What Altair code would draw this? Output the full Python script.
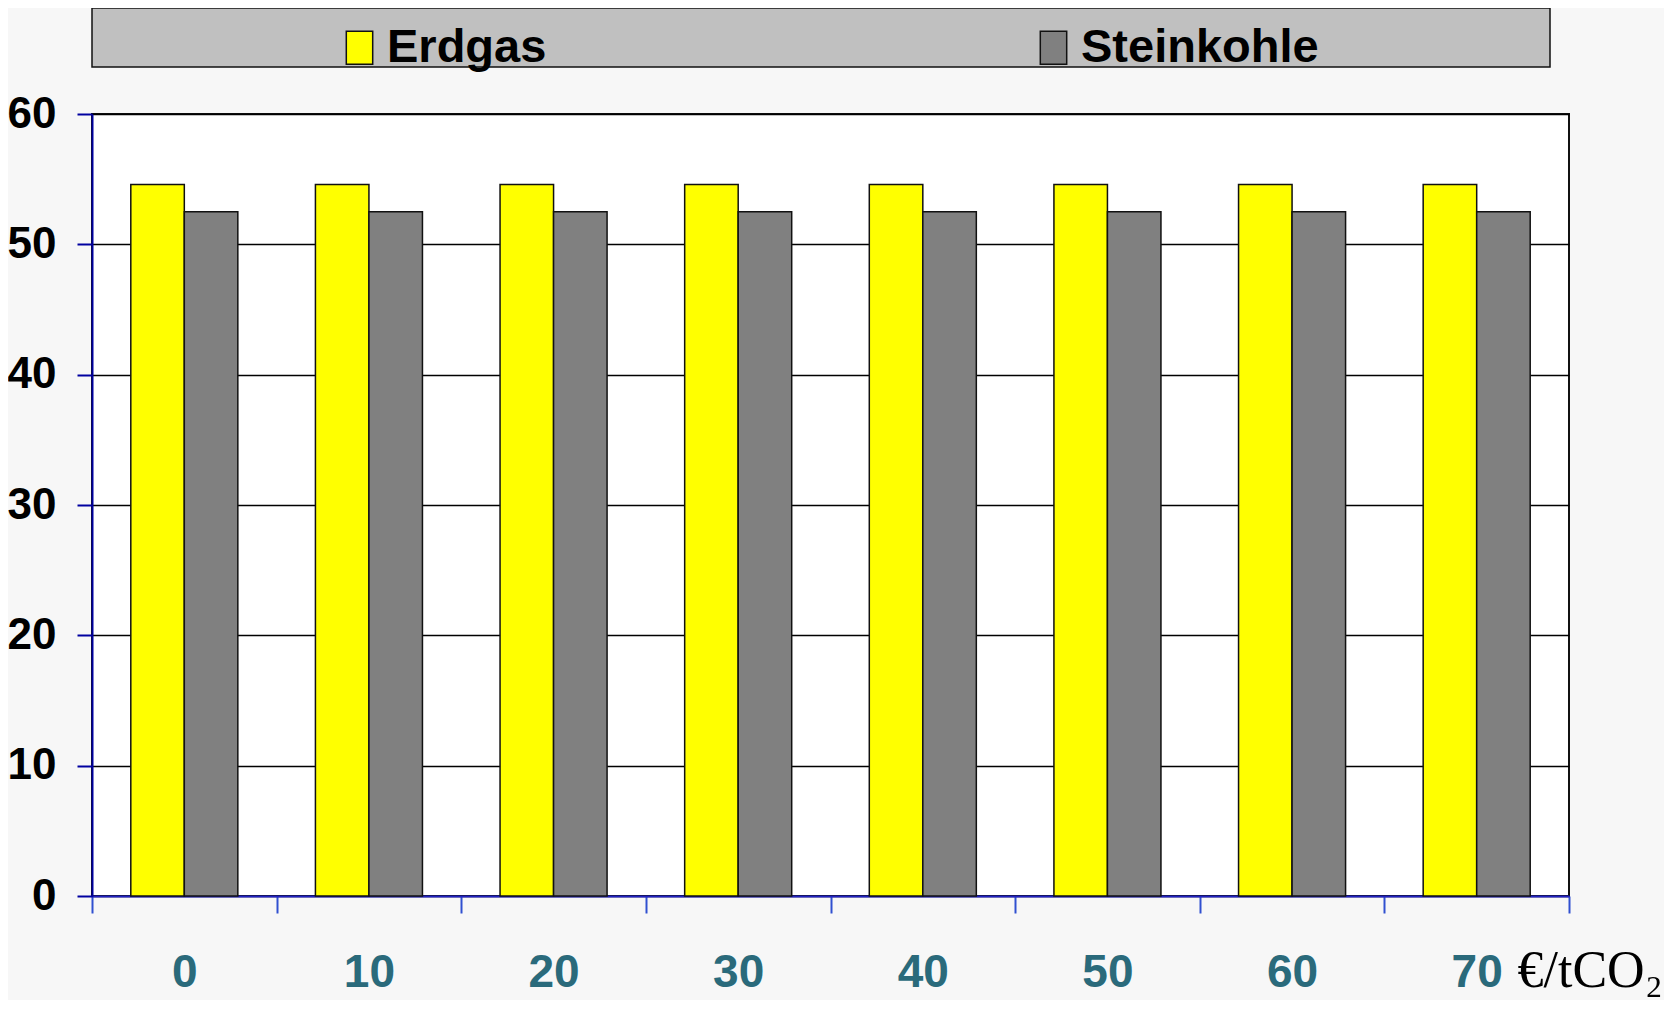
import altair as alt
import pandas as pd

prices = ["0", "10", "20", "30", "40", "50", "60", "70"]
erdgas = [54.6, 54.6, 54.6, 54.6, 54.6, 54.6, 54.6, 54.6]
steinkohle = [52.5, 52.5, 52.5, 52.5, 52.5, 52.5, 52.5, 52.5]
series = ["Erdgas", "Steinkohle"]
colors = ["#ffff00", "#808080"]

rows = []
for p, e, s in zip(prices, erdgas, steinkohle):
    rows.append({"price": p, "fuel": "Erdgas", "value": e})
    rows.append({"price": p, "fuel": "Steinkohle", "value": s})
df = pd.DataFrame(rows)

W, H = 1477, 782
FONT = "Liberation Sans, Arial, sans-serif"

legend_box = alt.Chart(pd.DataFrame({"a": [0]})).mark_rect(
    fill="#c0c0c0", stroke="#111111", strokeWidth=1.5
).encode(
    x=alt.value(0), x2=alt.value(1458), y=alt.value(-106), y2=alt.value(-47)
)

bars = alt.Chart(df).mark_bar(stroke="#111111", strokeWidth=1.5, opacity=1).encode(
    x=alt.X(
        "price:N",
        sort=prices,
        scale=alt.Scale(paddingInner=0, paddingOuter=0),
        axis=alt.Axis(
            title="€/tCO₂",
            titleFont="Liberation Serif",
            titleFontWeight="normal",
            titleFontSize=52,
            titleColor="#000000",
            titleX=1425,
            titleY=90,
            titleAlign="left",
            titleBaseline="alphabetic",
            labelFont=FONT,
            labelFontSize=46,
            labelFontWeight="bold",
            labelColor="#2a6a7b",
            labelAngle=0,
            labelBaseline="alphabetic",
            labelPadding=73,
            tickBand="extent",
            tickSize=17,
            tickColor="#3050d0",
            tickWidth=2,
            domainColor="#2020c0",
            domainWidth=2,
            grid=False,
        ),
    ),
    xOffset=alt.XOffset(
        "fuel:N",
        sort=series,
        scale=alt.Scale(paddingInner=0, paddingOuter=0.725),
    ),
    y=alt.Y(
        "value:Q",
        scale=alt.Scale(domain=[0, 60], nice=False),
        axis=alt.Axis(
            title=None,
            values=[0, 10, 20, 30, 40, 50, 60],
            labelFont=FONT,
            labelFontSize=44,
            labelFontWeight="bold",
            labelColor="#000000",
            labelPadding=21,
            tickSize=15,
            tickColor="#0000a0",
            tickWidth=2,
            domainColor="#0000a0",
            domainWidth=2,
            grid=True,
            gridColor="#000000",
            gridWidth=1.5,
            gridOpacity=1,
        ),
    ),
    color=alt.Color(
        "fuel:N",
        sort=series,
        scale=alt.Scale(domain=series, range=colors),
        legend=alt.Legend(
            title=None,
            orient="none",
            legendX=244,
            legendY=-90,
            direction="horizontal",
            columns=2,
            columnPadding=483,
            symbolType="M-0.8,-1H0.8V1H-0.8Z",
            symbolSize=1089,
            symbolStrokeColor="#111111",
            symbolStrokeWidth=1.5,
            symbolOpacity=1,
            labelFont=FONT,
            labelFontSize=47,
            labelFontWeight="bold",
            labelColor="#000000",
            labelOffset=4,
            labelLimit=400,
            padding=0,
        ),
    ),
)

chart = alt.layer(legend_box, bars).properties(
    width=W,
    height=H,
    autosize=alt.AutoSizeParams(type="none"),
    padding={"left": 84, "top": 106, "right": 95, "bottom": 104},
    background="#f7f7f7",
).configure_view(
    fill="#ffffff", stroke="#111111", strokeWidth=2
)

chart.save("out.html", embed_options={"renderer": "svg", "actions": False})
